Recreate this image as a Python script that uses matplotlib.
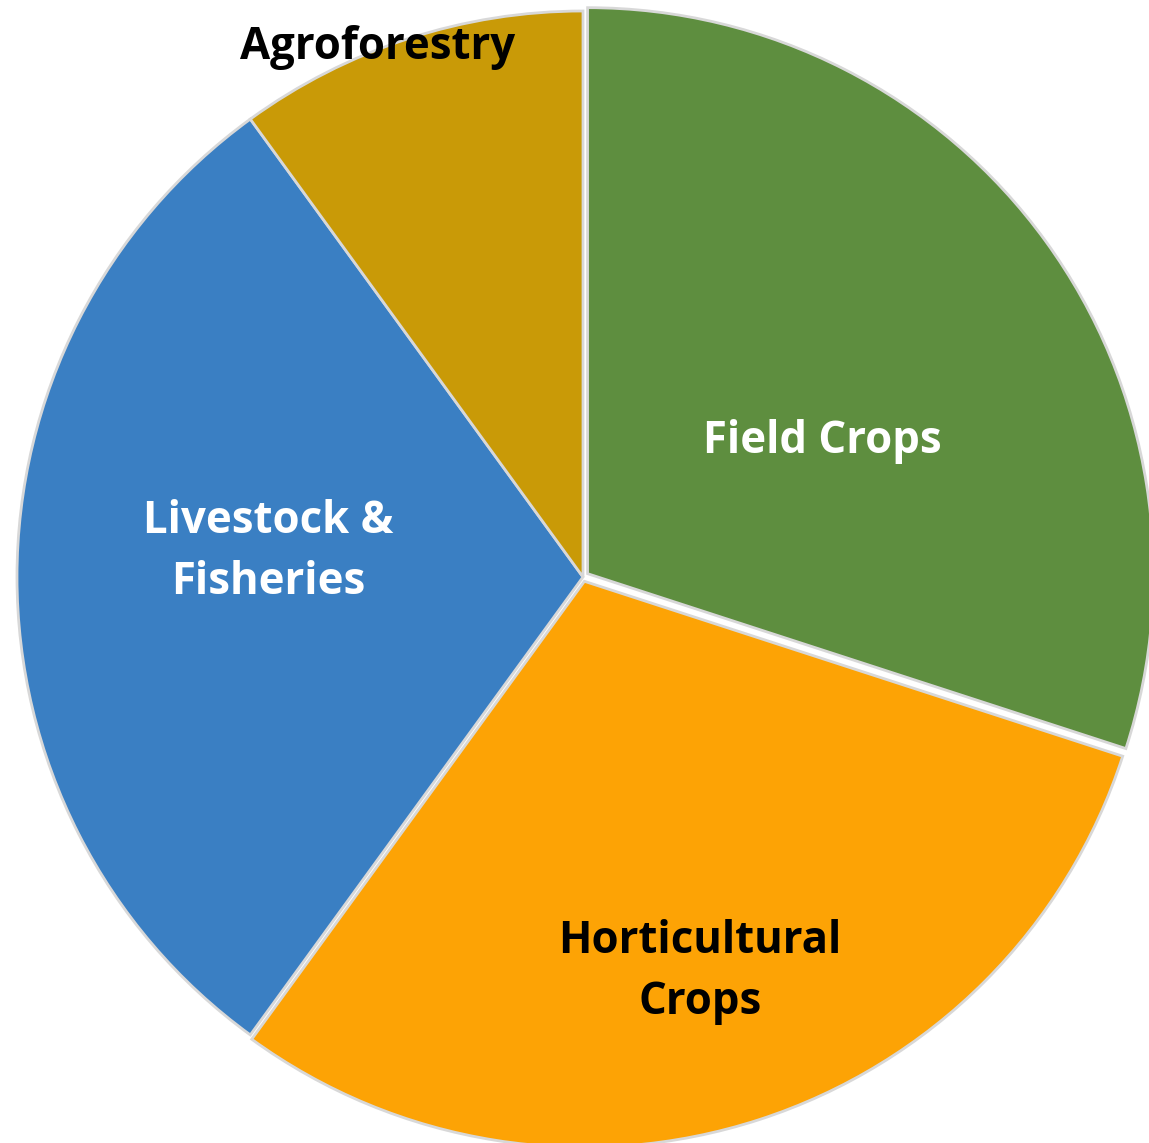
import matplotlib
matplotlib.use("Agg")
import matplotlib.pyplot as plt

categories = ["Field Crops", "Horticultural\nCrops", "Livestock &\nFisheries", "Agroforestry"]
values = [30, 30, 30, 10]
colors = ["#5E8E3F", "#FDA305", "#3A7FC3", "#C99A07"]
text_colors = ["white", "black", "white", "black"]

fig = plt.figure(figsize=(11.49, 11.43), dpi=100)
ax = fig.add_axes([0, 0, 1, 1])
R = 566.0
cx, cy = 583.0, 1143 - 577.0

wedges, _ = ax.pie(values, colors=colors, startangle=90, counterclock=False,
                   radius=1.0, explode=[0.01, 0.008, 0.0, 0.0],
                   wedgeprops=dict(edgecolor="#d8d8d8", linewidth=2.0))
for w in wedges:
    w.set_joinstyle("miter")

ax.set_aspect("equal")
ax.set_xlim(-cx / R, (1149 - cx) / R)
ax.set_ylim(-cy / R, (1143 - cy) / R)
ax.axis("off")

label_px = [(822, 442), (700, 972), (268, 552), (378, 48)]
for lab, (px, py), tc in zip(categories, label_px, text_colors):
    x = (px - cx) / R
    y = ((1143 - py) - cy) / R
    ax.text(x, y, lab, ha="center", va="center", color=tc, fontsize=31.5,
            fontweight="bold", family=["Open Sans", "DejaVu Sans"], linespacing=1.45)

fig.savefig("out.png", dpi=100)
